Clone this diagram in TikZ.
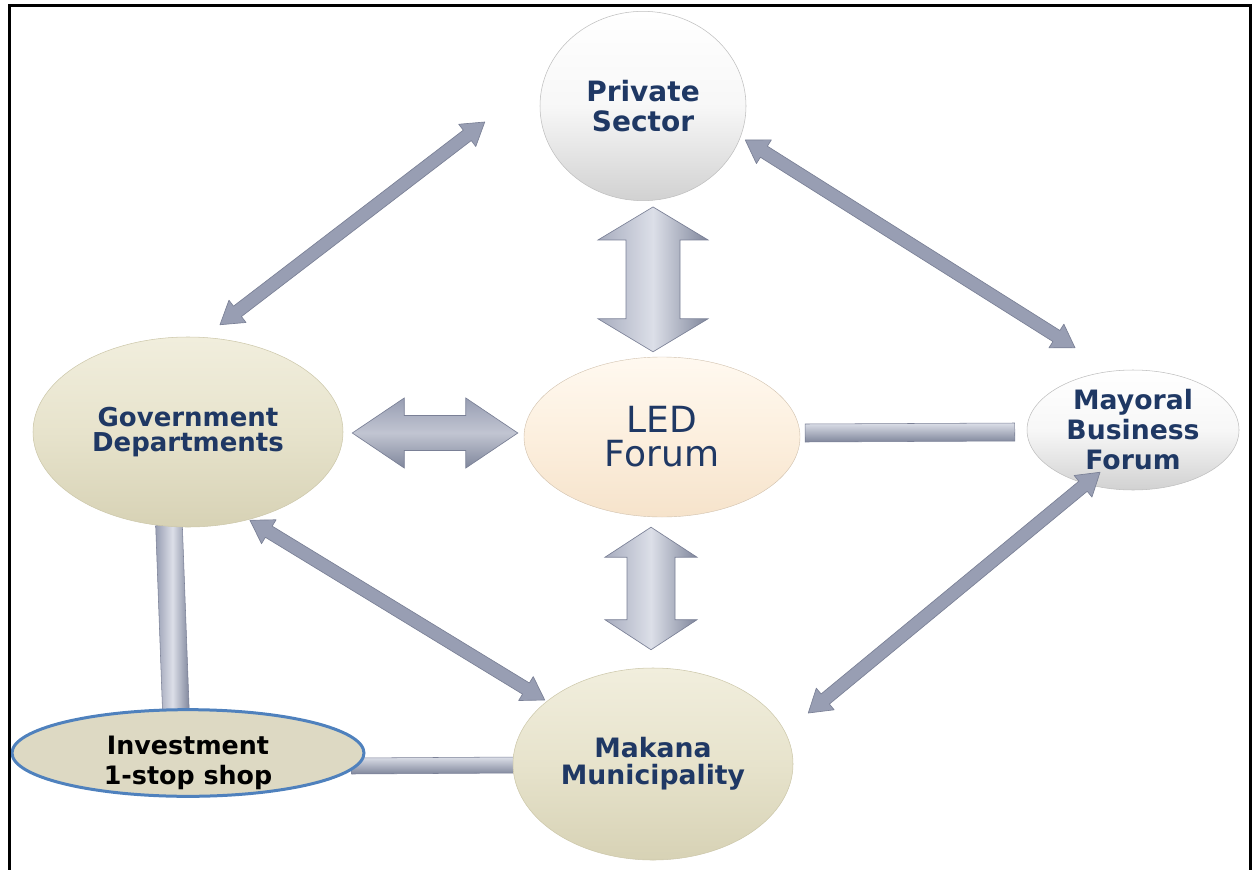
\documentclass[tikz,border=0pt]{standalone}
\usepackage{fontspec}
\setmainfont{DejaVu Sans}
\usetikzlibrary{shapes.geometric,calc,backgrounds}

\definecolor{navy}{HTML}{1F3864}
\definecolor{linkfill}{HTML}{989EB3}
\definecolor{linkedge}{HTML}{7A8096}
\definecolor{linklight}{HTML}{DCDFE8}
\definecolor{linkdark}{HTML}{80879C}
\definecolor{beigetop}{HTML}{F1EEDD}
\definecolor{beigemid}{HTML}{E7E3CC}
\definecolor{beigebot}{HTML}{D7D2B5}
\definecolor{beigeedge}{HTML}{CDC8AB}
\definecolor{peachtop}{HTML}{FFF9F0}
\definecolor{peachmid}{HTML}{FCEFDE}
\definecolor{peachbot}{HTML}{F6E3CB}
\definecolor{invfill}{HTML}{DDD9C3}
\definecolor{invedge}{HTML}{4F81BD}

% double-headed block arrow between two tips:
% #1 style, #2 tip A, #3 tip B, #4 half shaft, #5 half head, #6 head length
\newcommand\dblarrow[6]{%
  \coordinate (daA) at ($(#2)!#6!(#3)$);
  \coordinate (daB) at ($(#3)!#6!(#2)$);
  \path[#1] (#2) -- ($(daA)!#5!90:(#3)$) -- ($(daA)!#4!90:(#3)$)
    -- ($(daB)!#4!-90:(#2)$) -- ($(daB)!#5!-90:(#2)$) -- (#3)
    -- ($(daB)!#5!90:(#2)$) -- ($(daB)!#4!90:(#2)$)
    -- ($(daA)!#4!-90:(#3)$) -- ($(daA)!#5!-90:(#3)$) -- cycle;
}
% straight bar between two ends: #1 style, #2 end A, #3 end B, #4 half width
\newcommand\barlink[4]{%
  \path[#1] ($(#2)!#4!90:(#3)$) -- ($(#3)!#4!-90:(#2)$)
    -- ($(#3)!#4!90:(#2)$) -- ($(#2)!#4!-90:(#3)$) -- cycle;
}

\begin{document}
\begin{tikzpicture}[x=0.75pt,y=-0.75pt,
  blob/.style={ellipse,inner sep=0pt,align=center,text=navy},
  beige/.style={top color=beigetop,bottom color=beigebot,middle color=beigemid,draw=beigeedge,line width=0.4pt},
  silver/.style={top color=white,bottom color=black!18,middle color=black!3,draw=black!25,line width=0.4pt},
  thinarrow/.style={fill=linkfill,draw=linkedge,line width=0.5pt,line join=round},
  fatv/.style={left color=linkfill!85!white,right color=linkdark,middle color=linklight,draw=linkedge,line width=0.5pt},
  fath/.style={top color=linkfill,bottom color=linkdark,middle color=linkfill!60!white,draw=linkedge,line width=0.5pt},
  barh/.style={top color=linklight,bottom color=linkdark,draw=linkedge,line width=0.4pt},
  barv/.style={left color=linkfill,right color=linkdark,middle color=linklight,draw=linkedge,line width=0.4pt},
  frame/.style={line width=2.25pt,draw=black}]

\useasboundingbox (0,0) rectangle (1252,870);

% the six partners
\node[blob,minimum width=154.5pt,minimum height=142pt,silver,
      font=\fontsize{21}{23}\selectfont\bfseries] (priv) at (643,106) {Private\\Sector};
\node[blob,minimum width=232.5pt,minimum height=142.5pt,beige,
      font=\fontsize{19.5}{19}\selectfont\bfseries] (gov) at (188,432) {Government\\Departments};
\node[blob,minimum width=207pt,minimum height=120pt,
      top color=peachtop,bottom color=peachbot,middle color=peachmid,draw=peachbot!85!black,line width=0.3pt,
      font=\fontsize{27}{25.5}\selectfont] (led) at (662,437) {LED\\Forum};
\node[blob,minimum width=159pt,minimum height=90pt,silver,inner sep=-12pt,
      font=\fontsize{20}{22.5}\selectfont\bfseries] (may) at (1133,430) {Mayoral\\Business\\Forum};
\node[blob,minimum width=264pt,minimum height=65pt,fill=invfill,draw=invedge,line width=2.25pt,
      text=black,inner sep=-16pt,font=\fontsize{19}{22.5}\selectfont\bfseries] (inv) at (188,753)
      {\raisebox{0pt}[\dimexpr\height+15pt\relax][\depth]{\begin{tabular}{@{}c@{}}Investment\\1-stop shop\end{tabular}}};
\node[blob,minimum width=210pt,minimum height=144pt,beige,
      font=\fontsize{20}{20}\selectfont\bfseries] (mak) at (653,764) {Makana\\Municipality};

% end points of the links, set off from the partners they join
\coordinate (v1a) at ($(priv.south)+(10,6)$);
\coordinate (v1b) at ($(led.north)+(-9,-5)$);
\coordinate (v2a) at ($(led.south)+(-11,10)$);
\coordinate (v2b) at ($(mak.north)+(-2,-18)$);
\coordinate (h1a) at ($(gov.east)+(9,1)$);
\coordinate (h1b) at ($(led.west)+(-6,-4)$);
\coordinate (t1a) at ($(gov.north)+(32,-12)$);
\coordinate (t1b) at ($(priv.west)+(-55,16)$);
\coordinate (t2a) at ($(priv.east)+(-1,34)$);
\coordinate (t2b) at ($(may.north)+(-58,-22)$);
\coordinate (t3a) at ($(gov.south)+(62,-7)$);
\coordinate (t3b) at ($(mak.west)+(32,-64)$);
\coordinate (t4a) at ($(mak.east)+(15,-51)$);
\coordinate (t4b) at ($(may.south)+(-33,-18)$);
\coordinate (b1a) at ($(led.east)+(5,-4)$);
\coordinate (b1b) at ($(may.west)+(-12,2)$);
\coordinate (b2a) at ($(gov.south)+(-19,-2)$);
\coordinate (b2b) at ($(inv.north)+(-12,6)$);
\coordinate (b3a) at ($(inv.east)+(-14,13)$);
\coordinate (b3b) at ($(mak.west)+(4,1)$);

\begin{scope}[on background layer]
  % plain bars
  \barlink{barh}{b1a}{b1b}{6.75pt}
  \barlink{barv}{b2a}{b2b}{10pt}
  \barlink{barh}{b3a}{b3b}{6pt}
  % block two-way arrows round the LED Forum
  \dblarrow{fatv}{v1a}{v1b}{20.25pt}{41.25pt}{24.75pt}
  \dblarrow{fatv}{v2a}{v2b}{18pt}{34.5pt}{22.5pt}
  \dblarrow{fath}{h1a}{h1b}{13.1pt}{26.25pt}{39pt}
\end{scope}

% thin two-way arrows
\dblarrow{thinarrow}{t1a}{t1b}{4.9pt}{10.5pt}{16.5pt}
\dblarrow{thinarrow}{t2a}{t2b}{4.9pt}{10.5pt}{16.5pt}
\dblarrow{thinarrow}{t3a}{t3b}{4.9pt}{10.5pt}{16.5pt}
\dblarrow{thinarrow}{t4a}{t4b}{4.9pt}{10.5pt}{16.5pt}

% frame
\draw[frame] (9,875) -- (9,6) -- (1250,6) -- (1250,875);
\end{tikzpicture}
\end{document}
